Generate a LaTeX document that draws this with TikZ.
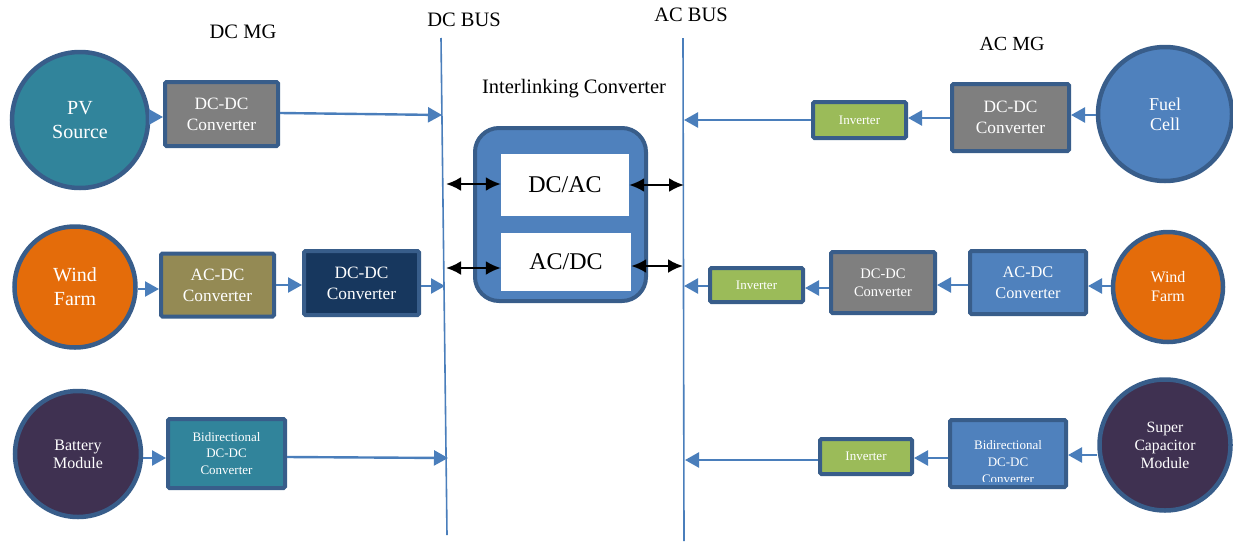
\documentclass[tikz,border=0pt]{standalone}
\usepackage{fontspec}
\setmainfont{Liberation Serif}
\usetikzlibrary{arrows.meta}
\definecolor{bordc}{HTML}{385D8A}
\definecolor{flowc}{HTML}{4A7EBB}
\definecolor{pvteal}{HTML}{31849B}
\definecolor{convgray}{HTML}{7F7F7F}
\definecolor{windor}{HTML}{E46C0A}
\definecolor{olive}{HTML}{948A54}
\definecolor{navy}{HTML}{17375E}
\definecolor{storepurple}{HTML}{3F3151}
\definecolor{mgblue}{HTML}{4F81BD}
\definecolor{invgreen}{HTML}{9BBB59}
\tikzset{
  src/.style={circle, draw=bordc, line width=4.5pt, text=white, align=center, inner sep=0pt},
  conv/.style={rectangle, draw=bordc, line width=4pt, rounded corners=1.5pt, text=white, align=center, inner sep=0pt},
  flow/.style={draw=flowc, line width=2.4pt, -{Triangle[length=14pt,width=15pt]}},
  bus/.style={draw=flowc, line width=1.6pt},
  dbl/.style={draw=black, line width=2.4pt, {Latex[length=15pt,width=14pt]}-{Latex[length=15pt,width=14pt]}},
  lbl/.style={font=\fontsize{20.5}{24}\selectfont, text=black},
  boxfont/.style={font=\fontsize{17.3}{21}\selectfont},
  invfont/.style={font=\fontsize{13}{15}\selectfont},
  bifont/.style={font=\fontsize{13}{16.5}\selectfont},
}
\begin{document}
\begin{tikzpicture}[x=1pt,y=-1pt]
\useasboundingbox (0,0) rectangle (1233,541);

% buses
\draw[bus] (441,38) coordinate (dctop) -- (447,535) coordinate (dcbot);
\draw[bus] (683,38) coordinate (actop) -- (684,541) coordinate (acbot);
\node[lbl] (dclbl) at (464,20) {DC BUS};
\node[lbl] (aclbl) at (691,15) {AC BUS};
\node[lbl] (dcmg) at (243,32) {DC MG};
\node[lbl, font=\fontsize{20}{24}\selectfont] (acmg) at (1012,44) {AC MG};
\node[lbl] (iclbl) at (574,89) {Interlinking Converter};

% DC microgrid sources and converters
\node[src, fill=pvteal, minimum size=136pt, font=\fontsize{20}{24}\selectfont] (pv) at (80,120) {PV\\Source};
\node[conv, fill=convgray, minimum width=113pt, minimum height=64pt, boxfont] (pvdc) at (221.5,114) {DC-DC\\Converter};

\node[src, fill=windor, minimum size=121pt, font=\fontsize{20}{24}\selectfont] (windl) at (75,287) {Wind\\Farm};
\node[conv, fill=olive, minimum width=113pt, minimum height=63pt, boxfont] (windac) at (217.5,285) {AC-DC\\Converter};
\node[conv, fill=navy, minimum width=115pt, minimum height=64pt, boxfont] (winddc) at (361.5,283) {DC-DC\\Converter};

\node[src, fill=storepurple, minimum size=126pt, font=\fontsize{16}{18}\selectfont] (batt) at (78,454) {Battery\\Module};
\node[conv, fill=pvteal, minimum width=117pt, minimum height=69pt, bifont] (battdc) at (226.5,453.5) {Bidirectional\\DC-DC\\Converter};

% interlinking converter
\node[draw=bordc, fill=mgblue, line width=4pt, rounded corners=24pt, minimum width=171pt, minimum height=173pt] (ilc) at (560.5,214.5) {};
\node[fill=white, minimum width=128pt, minimum height=62pt, inner sep=0pt, font=\fontsize{24}{28}\selectfont] (dcac) at (565,185) {DC/AC};
\node[fill=white, minimum width=130pt, minimum height=58pt, inner sep=0pt, font=\fontsize{24}{28}\selectfont] (acdc) at (566,262) {AC/DC};

% AC microgrid sources and converters
\node[src, fill=mgblue, minimum size=134pt, font=\fontsize{18}{20}\selectfont] (fuel) at (1165,114) {Fuel\\Cell};
\node[conv, fill=convgray, minimum width=117pt, minimum height=67pt, boxfont] (fueldc) at (1010.5,117.5) {DC-DC\\Converter};
\node[conv, fill=invgreen, minimum width=93pt, minimum height=36pt, invfont] (fuelinv) at (859.5,120) {Inverter};

\node[src, fill=windor, minimum size=110pt, font=\fontsize{16}{19}\selectfont] (windr) at (1168,287) {Wind\\Farm};
\node[conv, fill=mgblue, minimum width=116pt, minimum height=63pt, font=\fontsize{16.3}{21}\selectfont] (windrac) at (1028,282.5) {AC-DC\\Converter};
\node[conv, fill=convgray, minimum width=104pt, minimum height=61pt, font=\fontsize{14.5}{18}\selectfont] (windrdc) at (883,282.5) {DC-DC\\Converter};
\node[conv, fill=invgreen, minimum width=93pt, minimum height=34pt, invfont] (windrinv) at (756.5,285) {Inverter};

\node[src, fill=storepurple, minimum size=131pt, font=\fontsize{15.7}{18}\selectfont] (scap) at (1165,445) {Super\\Capacitor\\Module};
\node[conv, fill=mgblue, minimum width=116pt, minimum height=67pt] (scapdc) at (1008,453.5) {};
% text box cut off just above the lower frame
\begin{scope}
  \clip (948,420) rectangle (1068,481);
  \node[text=white, align=center, inner sep=0pt, font=\fontsize{13}{17}\selectfont] (scapdctext) at (1008,462) {Bidirectional\\DC-DC\\Converter};
\end{scope}
\node[conv, fill=invgreen, minimum width=92pt, minimum height=35pt, invfont] (scapinv) at (866,456.5) {Inverter};

% bus connection points
\coordinate (pvbus) at (442,115);
\coordinate (windbus) at (445,286);
\coordinate (battbus) at (448,458);
\coordinate (fuelbus) at (684,120);
\coordinate (windrbus) at (684,286);
\coordinate (scapbus) at (685,460);
\coordinate (dcacl) at (446,184);
\coordinate (acdcl) at (446,268);
\coordinate (dcacr) at (684,185);
\coordinate (acdcr) at (683,266);

% DC side power flow
\draw[flow] (pv.east |- 0,117) -- (pvdc.west |- 0,117);
\draw[flow] (pvdc.east |- 0,113) -- (pvbus);
\draw[flow] (windl.east |- 0,289) -- (windac.west |- 0,289);
\draw[flow] (windac.east |- 0,285) -- (winddc.west |- 0,285);
\draw[flow] (winddc.east |- 0,286) -- (windbus);
\draw[flow] (batt.east |- 0,458) -- (battdc.west |- 0,458);
\draw[flow] (battdc.east |- 0,457) -- (battbus);

% AC side power flow
\draw[flow] (fuel.west |- 0,115) -- (fueldc.east |- 0,115);
\draw[flow] (fueldc.west |- 0,118) -- (fuelinv.east |- 0,118);
\draw[flow] (fuelinv.west |- 0,120) -- (fuelbus);
\draw[flow] (windr.west |- 0,286) -- (windrac.east |- 0,286);
\draw[flow] (windrac.west |- 0,285) -- (windrdc.east |- 0,285);
\draw[flow] (windrdc.west |- 0,288) -- (windrinv.east |- 0,288);
\draw[flow] (windrinv.west |- 0,286) -- (windrbus);
\draw[flow] (scap.west |- 0,455) -- (scapdc.east |- 0,455);
\draw[flow] (scapdc.west |- 0,458) -- (scapinv.east |- 0,458);
\draw[flow] (scapinv.west |- 0,460) -- (scapbus);

% interlinking converter links
\draw[dbl] (dcacl) -- (dcac.west |- dcacl);
\draw[dbl] (acdcl) -- (acdc.west |- acdcl);
\draw[dbl] (dcac.east |- dcacr) -- (dcacr);
\draw[dbl] (acdc.east |- acdcr) -- (acdcr);
\end{tikzpicture}
\end{document}
